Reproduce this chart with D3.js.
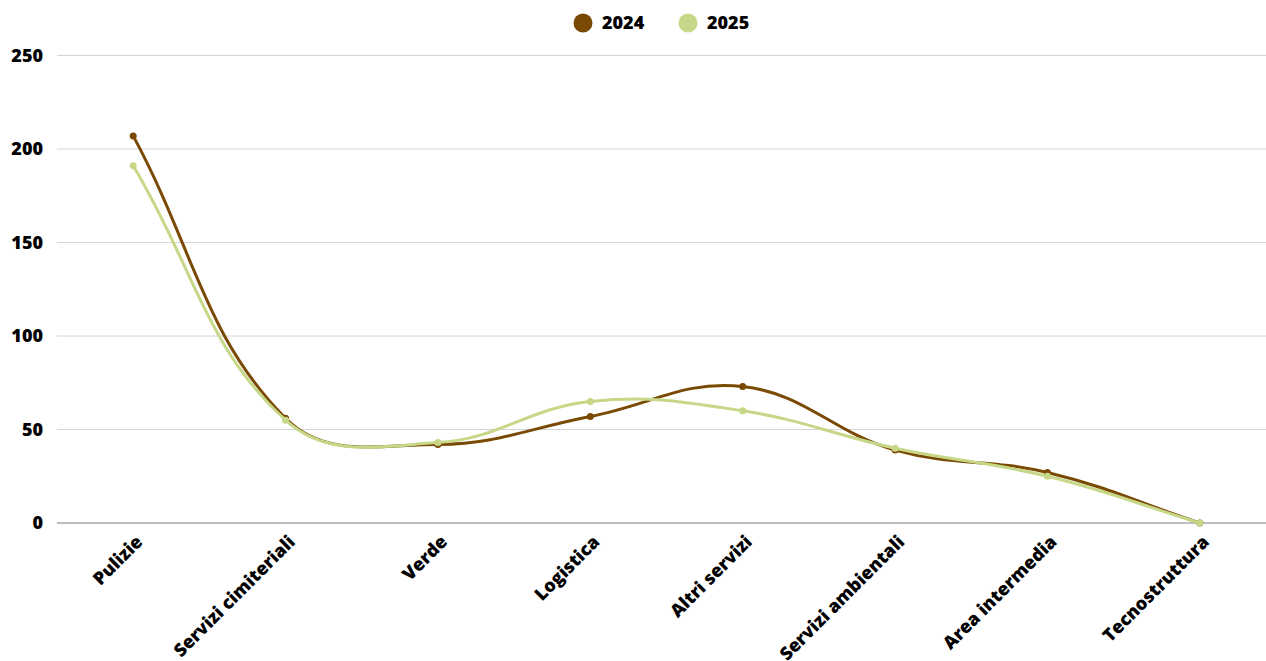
<!DOCTYPE html>
<html>
<head>
<meta charset="utf-8">
<script src="https://cdn.jsdelivr.net/npm/d3@7"></script>
<style>
  html, body { margin: 0; padding: 0; background: #fff; }
  svg { display: block; font-family: "Open Sans", sans-serif; }
</style>
</head>
<body>
<svg id="chart" width="1266" height="661"></svg>
<script>
const categories = ["Pulizie", "Servizi cimiteriali", "Verde", "Logistica", "Altri servizi", "Servizi ambientali", "Area intermedia", "Tecnostruttura"];
const values2024 = [207, 56, 42, 57, 73, 39, 27, 0];
const values2025 = [191, 55, 43, 65, 60, 40, 25, 0];
const yTicks = [0, 50, 100, 150, 200, 250];
const seriesNames = ["2024", "2025"];
const seriesColors = ["#7a4a04", "#c6d887"];

const svg = d3.select("#chart");
const area = { left: 57, right: 1276, top: 55.5, bottom: 523 };

const x = d3.scalePoint().domain(categories).range([area.left, area.right]).padding(0.5);
const y = d3.scaleLinear().domain([0, 250]).range([area.bottom, area.top]);

// Spline with distance-weighted control points (tension 0.4), control points kept inside the plot area
function weightedSpline(context) {
  let pts = [];
  const t = 0.4;
  const cap = p => [Math.max(area.left, Math.min(area.right, p[0])), Math.max(area.top, Math.min(area.bottom, p[1]))];
  return {
    areaStart() {}, areaEnd() {},
    lineStart() { pts = []; },
    point(px, py) { pts.push([+px, +py]); },
    lineEnd() {
      const n = pts.length;
      if (!n) return;
      const cps = pts.map((p, i) => {
        const prev = pts[Math.max(i - 1, 0)];
        const next = pts[Math.min(i + 1, n - 1)];
        const d01 = Math.hypot(p[0] - prev[0], p[1] - prev[1]);
        const d12 = Math.hypot(next[0] - p[0], next[1] - p[1]);
        let s01 = d01 / (d01 + d12), s12 = d12 / (d01 + d12);
        if (isNaN(s01)) s01 = 0;
        if (isNaN(s12)) s12 = 0;
        const fa = t * s01, fb = t * s12;
        return {
          prev: cap([p[0] - fa * (next[0] - prev[0]), p[1] - fa * (next[1] - prev[1])]),
          next: cap([p[0] + fb * (next[0] - prev[0]), p[1] + fb * (next[1] - prev[1])])
        };
      });
      context.moveTo(pts[0][0], pts[0][1]);
      for (let i = 1; i < n; i++) {
        context.bezierCurveTo(cps[i - 1].next[0], cps[i - 1].next[1], cps[i].prev[0], cps[i].prev[1], pts[i][0], pts[i][1]);
      }
    }
  };
}

// Horizontal grid
const grid = svg.append("g");
grid.selectAll("line").data(yTicks).join("line")
  .attr("x1", area.left).attr("x2", area.right)
  .attr("y1", d => y(d)).attr("y2", d => y(d))
  .attr("stroke", d => d === 0 ? "#a8a8a8" : "#d4d4d4")
  .attr("stroke-width", d => d === 0 ? 1.5 : 1);

// Y axis labels
const yAxis = svg.append("g").attr("transform", `translate(${area.left},0)`)
  .call(d3.axisLeft(y).tickValues(yTicks).tickSize(0).tickPadding(14));
yAxis.select(".domain").remove();
yAxis.selectAll("text")
  .attr("font-family", "'Open Sans', sans-serif")
  .attr("font-size", 18).attr("font-weight", 800).attr("fill", "#000");

// X axis labels
const xAxis = svg.append("g").attr("transform", `translate(0,${area.bottom})`)
  .call(d3.axisBottom(x).tickSize(0).tickPadding(0));
xAxis.select(".domain").remove();
xAxis.selectAll(".tick text")
  .attr("font-family", "'Open Sans', sans-serif")
  .attr("font-size", 18).attr("font-weight", 800).attr("fill", "#000")
  .attr("text-anchor", "end")
  .attr("dy", 0)
  .attr("y", 0)
  .attr("transform", "translate(10,20) rotate(-45)");

// Lines and points
const series = [values2024, values2025];
const line = d3.line().x((d, i) => x(categories[i])).y(d => y(d)).curve(weightedSpline);

series.forEach((vals, s) => {
  const g = svg.append("g");
  g.append("path").datum(vals)
    .attr("d", line)
    .attr("fill", "none")
    .attr("stroke", seriesColors[s])
    .attr("stroke-width", 3);
  g.selectAll("circle").data(vals).join("circle")
    .attr("cx", (d, i) => x(categories[i]))
    .attr("cy", d => y(d))
    .attr("r", 3.5)
    .attr("fill", seriesColors[s]);
});

// Legend
const legendX = [583, 688];
const legend = svg.append("g");
seriesNames.forEach((name, s) => {
  legend.append("circle").attr("cx", legendX[s]).attr("cy", 23).attr("r", 9.5).attr("fill", seriesColors[s]);
  legend.append("text").attr("x", legendX[s] + 19).attr("y", 23).attr("dy", "0.36em")
    .attr("font-size", 18).attr("font-weight", 800).attr("fill", "#000").text(name);
});
</script>
</body>
</html>
